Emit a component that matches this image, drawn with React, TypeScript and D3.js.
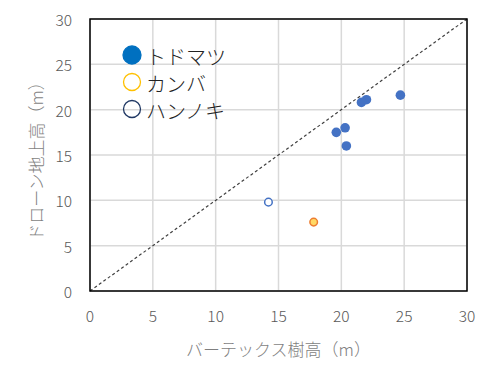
import React from "react";
import * as d3 from "d3";

const todomatsuX = [24.7, 22.0, 21.6, 20.3, 19.6, 20.4];
const todomatsuY = [21.6, 21.1, 20.8, 18.0, 17.5, 16.0];
const kanbaX = [17.8];
const kanbaY = [7.6];
const hannokiX = [14.2];
const hannokiY = [9.8];
const ticks = [0, 5, 10, 15, 20, 25, 30];
const legendLabels = ["トドマツ", "カンバ", "ハンノキ"];
const xTitle = "バーテックス樹高（m）";
const yTitle = "ドローン地上高（m）";

const W = 494, H = 379;
const L = 90, R = 467, T = 19, B = 291;
const FONT = "'Noto Sans CJK JP', 'Noto Sans', sans-serif";

export default function App() {
  const x = d3.scaleLinear().domain([0, 30]).range([L, R]);
  const y = d3.scaleLinear().domain([0, 30]).range([B, T]);
  const line = d3.line<[number, number]>().x(d => x(d[0])).y(d => y(d[1]));
  const legend = [
    { fill: "#0070C0", stroke: "#0070C0", r: 9 },
    { fill: "none", stroke: "#FFC000", r: 8.5 },
    { fill: "none", stroke: "#203864", r: 8.5 },
  ];
  return (
    <svg width={W} height={H} style={{ position: "absolute", left: 0, top: 0 }} fontFamily={FONT} fontWeight={300}>
      <rect width={W} height={H} fill="#fff" />
      {ticks.map(t => (
        <g key={"g" + t}>
          <line x1={x(t)} x2={x(t)} y1={T} y2={B} stroke="#D9D9D9" strokeWidth={1.5} />
          <line x1={L} x2={R} y1={y(t)} y2={y(t)} stroke="#D9D9D9" strokeWidth={1.5} />
        </g>
      ))}
      <path d={line([[0, 0], [30, 30]]) || ""} stroke="#404040" strokeWidth={1.2} strokeDasharray="3,2.5" fill="none" />
      <rect x={L} y={T} width={R - L} height={B - T} fill="none" stroke="#000" strokeWidth={1.5} />
      {ticks.map(t => (
        <text key={"x" + t} x={x(t)} y={315} textAnchor="middle" dominantBaseline="central" fontSize={15.5} fill="#595959">{t}</text>
      ))}
      {ticks.map(t => (
        <text key={"y" + t} x={72} y={y(t)} textAnchor="end" dominantBaseline="central" fontSize={15.5} fill="#595959">{t}</text>
      ))}
      <text x={(L + R) / 2} y={348} textAnchor="middle" dominantBaseline="central" fontSize={17} fill="#7F7F7F">{xTitle}</text>
      <text transform={`translate(35,${(T + B) / 2 + 2}) rotate(-90)`} textAnchor="middle" dominantBaseline="central" fontSize={17} fill="#7F7F7F">{yTitle}</text>
      {todomatsuX.map((v, i) => (
        <circle key={"t" + i} cx={x(v)} cy={y(todomatsuY[i])} r={4.8} fill="#4472C4" />
      ))}
      {kanbaX.map((v, i) => (
        <circle key={"k" + i} cx={x(v)} cy={y(kanbaY[i])} r={3.8} fill="#FFD966" stroke="#ED7D31" strokeWidth={1.5} />
      ))}
      {hannokiX.map((v, i) => (
        <circle key={"h" + i} cx={x(v)} cy={y(hannokiY[i])} r={3.8} fill="#fff" stroke="#4472C4" strokeWidth={1.5} />
      ))}
      {legendLabels.map((lab, i) => (
        <g key={"l" + i}>
          <circle cx={132} cy={55 + i * 27} r={legend[i].r} fill={legend[i].fill} stroke={legend[i].stroke} strokeWidth={1.3} />
          <text x={146} y={56 + i * 27} dominantBaseline="central" fontSize={20} fill="#222">{lab}</text>
        </g>
      ))}
    </svg>
  );
}
